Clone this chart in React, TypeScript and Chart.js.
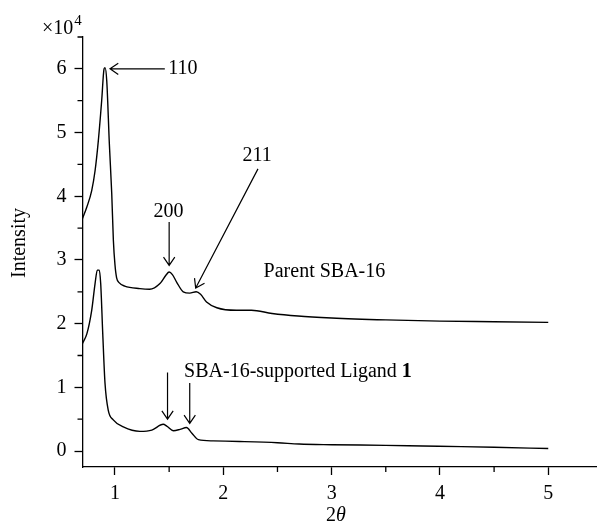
import React, { useEffect, useRef } from "react";
import { Chart, registerables } from "chart.js";

Chart.register(...registerables);

// 2θ values and intensities (×10^4)
const parentX = [0.70, 0.74, 0.785, 0.816, 0.846, 0.877, 0.899, 0.908, 0.924, 0.948, 0.97, 0.985, 1.0, 1.015, 1.04, 1.09, 1.23, 1.32, 1.415, 1.47, 1.50, 1.53, 1.57, 1.63, 1.69, 1.75, 1.79, 1.845, 1.94, 2.12, 2.26, 2.45, 2.69, 3.0, 3.5, 4.0, 4.5, 5.0];
const parentY = [3.65, 3.83, 4.09, 4.40, 4.87, 5.50, 6.00, 6.02, 5.81, 4.82, 4.04, 3.31, 2.92, 2.72, 2.64, 2.59, 2.55, 2.54, 2.63, 2.76, 2.81, 2.77, 2.65, 2.50, 2.48, 2.50, 2.46, 2.34, 2.25, 2.21, 2.21, 2.16, 2.12, 2.09, 2.06, 2.04, 2.03, 2.02];

const ligandX = [0.70, 0.74, 0.785, 0.816, 0.837, 0.855, 0.868, 0.887, 0.908, 0.938, 0.984, 1.077, 1.23, 1.34, 1.445, 1.48, 1.54, 1.60, 1.66, 1.71, 1.77, 1.905, 2.15, 2.5, 2.7, 3.0, 3.5, 3.84, 4.2, 4.5, 5.0];
const ligandY = [1.69, 1.84, 2.21, 2.63, 2.84, 2.84, 2.63, 1.84, 1.06, 0.64, 0.49, 0.38, 0.31, 0.33, 0.42, 0.39, 0.32, 0.34, 0.37, 0.28, 0.18, 0.16, 0.15, 0.13, 0.11, 0.10, 0.09, 0.08, 0.07, 0.06, 0.04];

const xTicks = [1, 2, 3, 4, 5];
const xMinorTicks = [1.5, 2.5, 3.5, 4.5];
const yTicks = [0, 1, 2, 3, 4, 5, 6];
const yMinorTicks = [0.5, 1.5, 2.5, 3.5, 4.5, 5.5, 6.5];

// annotation labels and arrows in data coordinates (2θ, intensity)
const peakLabels = [
  { text: "110", x: 1.626, y: 6.0 },
  { text: "200", x: 1.494, y: 3.75 },
  { text: "211", x: 2.312, y: 4.64 },
];
const arrows = [
  { x1: 1.46, y1: 6.0, x2: 0.954, y2: 6.0 },
  { x1: 1.5, y1: 3.594, x2: 1.5, y2: 2.915 },
  { x1: 2.32, y1: 4.43, x2: 1.745, y2: 2.56 },
  { x1: 1.485, y1: 1.234, x2: 1.485, y2: 0.502 },
  { x1: 1.69, y1: 1.07, x2: 1.69, y2: 0.434 },
];
const parentLabel = { text: "Parent SBA-16", x: 2.372, y: 2.81 };
const ligandLabel = { text: "SBA-16-supported Ligand ", bold: "1", x: 1.638, y: 1.243 };

const FONT = "'Liberation Serif', 'DejaVu Serif', serif";

const overlay = {
  id: "overlay",
  afterDraw(chart: any) {
    const ctx = chart.ctx as CanvasRenderingContext2D;
    const xs = chart.scales.x;
    const ys = chart.scales.y;
    const area = chart.chartArea;
    ctx.save();
    ctx.strokeStyle = "#000";
    ctx.fillStyle = "#000";
    ctx.lineWidth = 1.3;
    // minor ticks
    ctx.beginPath();
    xMinorTicks.forEach((v) => {
      const px = xs.getPixelForValue(v);
      ctx.moveTo(px, area.bottom);
      ctx.lineTo(px, area.bottom + 5);
    });
    yMinorTicks.forEach((v) => {
      const py = ys.getPixelForValue(v);
      ctx.moveTo(area.left, py);
      ctx.lineTo(area.left - 5, py);
    });
    ctx.stroke();

    // arrows
    ctx.lineWidth = 1.2;
    arrows.forEach((a) => {
      const x1 = xs.getPixelForValue(a.x1);
      const y1 = ys.getPixelForValue(a.y1);
      const x2 = xs.getPixelForValue(a.x2);
      const y2 = ys.getPixelForValue(a.y2);
      const ang = Math.atan2(y2 - y1, x2 - x1);
      const hl = 10;
      const ha = 0.6;
      ctx.beginPath();
      ctx.moveTo(x1, y1);
      ctx.lineTo(x2, y2);
      ctx.moveTo(x2 - hl * Math.cos(ang - ha), y2 - hl * Math.sin(ang - ha));
      ctx.lineTo(x2, y2);
      ctx.lineTo(x2 - hl * Math.cos(ang + ha), y2 - hl * Math.sin(ang + ha));
      ctx.stroke();
    });

    // labels
    ctx.font = `20px ${FONT}`;
    ctx.textBaseline = "middle";
    ctx.textAlign = "center";
    peakLabels.forEach((l) => {
      ctx.fillText(l.text, xs.getPixelForValue(l.x), ys.getPixelForValue(l.y));
    });
    ctx.textAlign = "left";
    ctx.fillText(parentLabel.text, xs.getPixelForValue(parentLabel.x), ys.getPixelForValue(parentLabel.y));
    const lx = xs.getPixelForValue(ligandLabel.x);
    const ly = ys.getPixelForValue(ligandLabel.y);
    ctx.fillText(ligandLabel.text, lx, ly);
    const w = ctx.measureText(ligandLabel.text).width;
    ctx.font = `bold 20px ${FONT}`;
    ctx.fillText(ligandLabel.bold, lx + w, ly);

    // axis titles
    ctx.font = `20px ${FONT}`;
    ctx.save();
    ctx.translate(20, 243);
    ctx.rotate(-Math.PI / 2);
    ctx.textAlign = "center";
    ctx.fillText("Intensity", 0, 0);
    ctx.restore();

    const cx = 336;
    const cy = 516;
    ctx.textAlign = "left";
    ctx.font = `20px ${FONT}`;
    const w2 = ctx.measureText("2").width;
    ctx.font = `italic 20px ${FONT}`;
    const wt = ctx.measureText("θ").width;
    const start = cx - (w2 + wt) / 2;
    ctx.font = `20px ${FONT}`;
    ctx.fillText("2", start, cy);
    ctx.font = `italic 20px ${FONT}`;
    ctx.fillText("θ", start + w2, cy);

    // ×10^4
    ctx.font = `20px ${FONT}`;
    ctx.textBaseline = "alphabetic";
    ctx.fillText("×10", 42, 34);
    const w3 = ctx.measureText("×10").width;
    ctx.font = `15px ${FONT}`;
    ctx.fillText("4", 42 + w3 + 1, 25);
    ctx.restore();
  },
};

export default function App() {
  const ref = useRef<HTMLCanvasElement | null>(null);
  useEffect(() => {
    if (!ref.current) return;
    const chart = new Chart(ref.current, {
      type: "scatter",
      data: {
        datasets: [
          {
            label: "Parent SBA-16",
            data: parentX.map((x, i) => ({ x, y: parentY[i] })),
            showLine: true,
            borderColor: "#000",
            borderWidth: 1.4,
            pointRadius: 0,
            cubicInterpolationMode: "monotone",
          },
          {
            label: "SBA-16-supported Ligand 1",
            data: ligandX.map((x, i) => ({ x, y: ligandY[i] })),
            showLine: true,
            borderColor: "#000",
            borderWidth: 1.4,
            pointRadius: 0,
            cubicInterpolationMode: "monotone",
          },
        ],
      },
      options: {
        animation: false,
        responsive: false,
        devicePixelRatio: 1,
        layout: { padding: { top: 37, right: 0, left: 0, bottom: 0 } },
        plugins: { legend: { display: false }, tooltip: { enabled: false } },
        scales: {
          x: {
            type: "linear",
            min: 0.7,
            max: 5.45,
            afterBuildTicks: (s: any) => {
              s.ticks = xTicks.map((v) => ({ value: v }));
            },
            afterFit: (s: any) => {
              s.height = 65;
            },
            border: { display: true, color: "#000", width: 1.3 },
            grid: { display: true, drawOnChartArea: false, drawTicks: true, tickLength: 8, tickColor: "#000", tickWidth: 1.3 },
            ticks: { color: "#000", font: { family: FONT, size: 20 }, padding: 7, maxRotation: 0 },
          },
          y: {
            type: "linear",
            min: -0.25,
            max: 6.5,
            afterBuildTicks: (s: any) => {
              s.ticks = yTicks.map((v) => ({ value: v }));
            },
            afterFit: (s: any) => {
              s.width = 82.5;
            },
            border: { display: true, color: "#000", width: 1.3 },
            grid: { display: true, drawOnChartArea: false, drawTicks: true, tickLength: 8, tickColor: "#000", tickWidth: 1.3 },
            ticks: { color: "#000", font: { family: FONT, size: 20 }, padding: 8 },
          },
        },
      },
      plugins: [overlay],
    } as any);
    return () => chart.destroy();
  }, []);
  return (
    <div style={{ position: "absolute", left: 0, top: 0, width: 597, height: 532, background: "#fff" }}>
      <canvas ref={ref} width={597} height={532} style={{ width: 597, height: 532 }} />
    </div>
  );
}
